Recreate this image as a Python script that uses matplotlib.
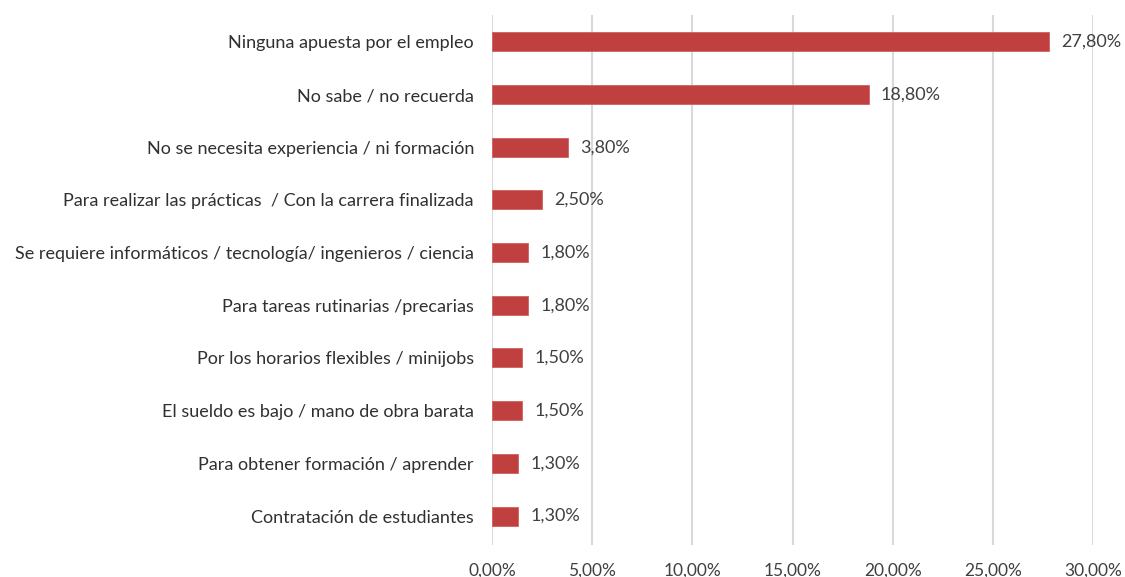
import matplotlib
matplotlib.use("Agg")
import matplotlib.pyplot as plt

categories = [
    "Ninguna apuesta por el empleo",
    "No sabe / no recuerda",
    "No se necesita experiencia / ni formación",
    "Para realizar las prácticas  / Con la carrera finalizada",
    "Se requiere informáticos / tecnología/ ingenieros / ciencia",
    "Para tareas rutinarias /precarias",
    "Por los horarios flexibles / minijobs",
    "El sueldo es bajo / mano de obra barata",
    "Para obtener formación / aprender",
    "Contratación de estudiantes",
]
values = [27.8, 18.8, 3.8, 2.5, 1.8, 1.8, 1.5, 1.5, 1.3, 1.3]
xticks = [0, 5, 10, 15, 20, 25, 30]

plt.rcParams['font.family'] = ['Lato', 'DejaVu Sans']

def pct(v):
    return f"{v:.2f}".replace(".", ",") + "%"

fig = plt.figure(figsize=(11.25, 5.77), dpi=100)
ax = fig.add_axes([492/1125, 32/577, 601/1125, 530/577])

ypos = list(range(len(categories)))
ax.barh(ypos, values, height=0.36, color="#C0403F", edgecolor="#D06060", linewidth=0.6, zorder=3)
for y, v in zip(ypos, values):
    ax.text(v + 0.6, y, pct(v), va="center", ha="left", fontsize=13, color="#404040")

ax.set_xlim(0, 30)
ax.set_ylim(9.55, -0.51)
ax.set_xticks(xticks)
ax.set_xticklabels([pct(t) for t in xticks], fontsize=12.5, color="#404040")
ax.set_yticks(ypos)
ax.set_yticklabels(categories, fontsize=13, color="#303030")
ax.tick_params(axis="both", length=0)
ax.tick_params(axis="x", pad=13)
ax.tick_params(axis="y", pad=13)
ax.grid(axis="x", color="#D9D9D9", linewidth=1.5, zorder=0)
for s in ax.spines.values():
    s.set_visible(False)

fig.savefig("out.png", dpi=100, facecolor="white")
